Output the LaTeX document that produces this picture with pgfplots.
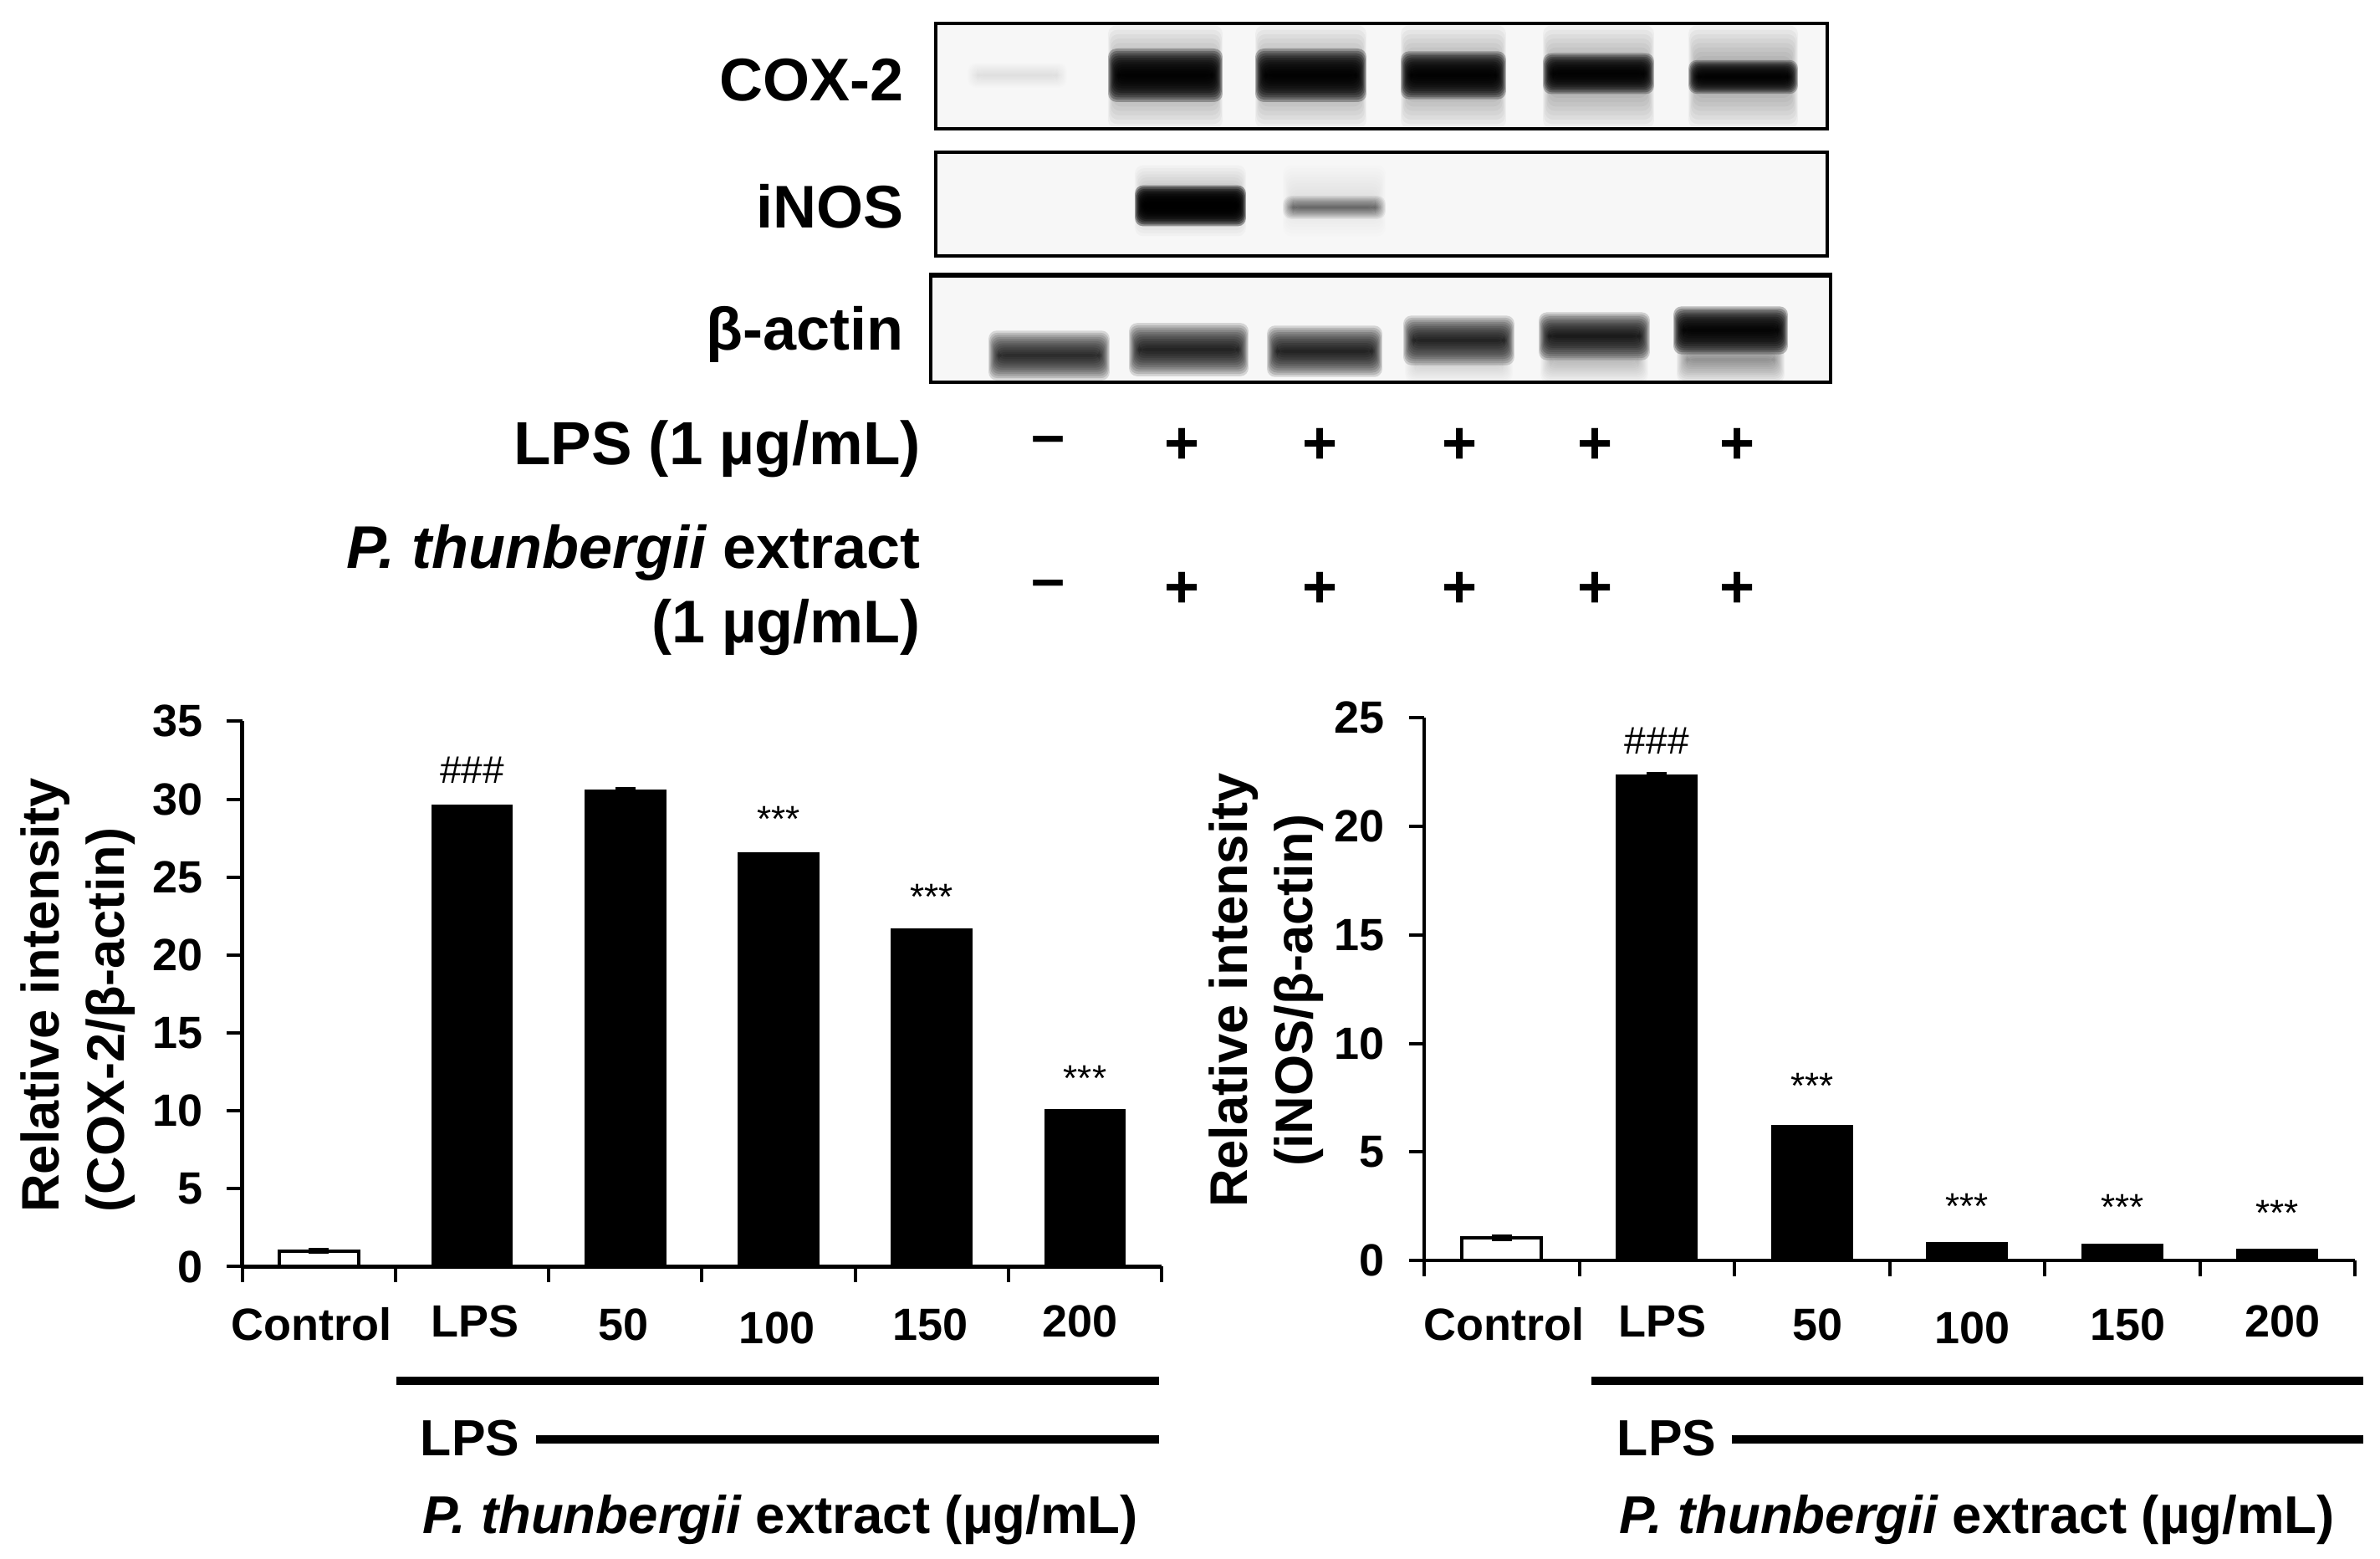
\documentclass[border=0pt]{standalone}
\usepackage{fontspec}
\setmainfont{Liberation Sans}
\usepackage{pgfplots}
\pgfplotsset{compat=1.18}
\newcommand\fs[1]{\fontsize{#1}{#1}\selectfont\bfseries}
\newcommand\band[5]{%
  \foreach \i in {1,...,12}{%
    \fill[black,opacity=#5,rounded corners=2.4pt]
      ({#1+\i*1.1},{#3-#4*(1.15-0.09*\i)}) rectangle ({#2-\i*1.1},{#3+#4*(1.15-0.09*\i)});
  }}
\newcommand\off[3]{\raisebox{#2}{\hspace*{#1}#3}}
\pgfplotsset{
  common/.style={
    scale only axis, clip=false,
    axis x line=bottom, axis y line=left,
    x axis line style={-}, y axis line style={-},
    axis line style={line width=1.1pt},
    tick align=outside, major tick length=4.6pt, tick style={line width=1.0pt,black},
    xmin=0,xmax=6,ymin=0,
    xtick={0,1,2,3,4,5,6}, x tick label as interval,
    tick label style={font=\fs{13.5}},
    /pgf/number format/assume math mode=true,
    y tick label style={xshift=-3.7pt},
    ybar, bar width=23.8pt, bar shift=0pt,
    error bars/error bar style={line width=0.9pt,black},
    error bars/error mark options={rotate=90,mark size=3pt,line width=0.9pt,black},
  },
  whitebar/.style={fill=white,draw=black,line width=1pt},
  blackbar/.style={fill=black,draw=black,line width=0.6pt},
}
\newcommand\hashmark[1]{\node[font=\fontsize{11.5}{11.5}\selectfont] at (#1) {\#\#\#};}
\newcommand\starmark[1]{\node[font=\fontsize{11}{11}\selectfont] at (#1) {***};}
\begin{document}
\begin{tikzpicture}
\path[use as bounding box] (0,0) rectangle (711.5pt,-465.75pt);
\begin{scope}[x=0.25pt,y=-0.25pt]
% blots
\fill[black!3] (1119,28) rectangle (2185,154);
\fill[black!3] (1119,182) rectangle (2185,306);
\fill[black!3] (1113,328) rectangle (2189,457);
% COX-2
\band{1156}{1277}{90}{14}{0.007}
\foreach \a/\b/\c/\h in {1324/1463/90/30,1500/1635/90/30,1674/1802/90/27,1844/1979/88/23,2018/2151/92/19}{
  \band{\a}{\b}{92}{58}{0.036}
  \band{\a}{\b}{\c}{\h}{0.26}
}
% iNOS
\band{1356}{1491}{240}{40}{0.025}
\band{1356}{1491}{246}{23}{0.36}
\band{1533}{1658}{240}{40}{0.008}
\band{1533}{1658}{248}{13}{0.06}
% actin
\foreach \a/\b/\c/\h/\o in {1181/1328/425/28/0.13,1349/1494/418/30/0.14,1514/1654/420/29/0.14,1677/1812/407/28/0.14,1839/1974/402/27/0.16,2000/2139/395/27/0.25}{
  \band{\a}{\b}{\c}{\h}{\o}
}
\band{2004}{2135}{430}{26}{0.04}
\band{1841}{1972}{432}{24}{0.018}
\band{1679}{1810}{436}{20}{0.012}
\draw[line width=0.9pt] (1119,28) rectangle (2185,154);
\draw[line width=1.1pt] (1119,182) rectangle (2185,306);
\draw[line width=1.1pt] (1113,328) rectangle (2189,457);
\draw[line width=1.6pt] (1113,329) -- (2189,329);
% blot labels
\node[anchor=east,font=\fs{18}] at (1095,96) {COX-2};
\node[anchor=east,font=\fs{18}] at (1095,247) {iNOS};
\node[anchor=east,font=\fs{18}] at (1095,400) {β-actin};
\node[anchor=east,font=\fs{18.2}] at (1115,537) {LPS (1 µg/mL)};
\node[anchor=east,font=\fs{18}] at (1115,661) {{\itshape P. thunbergii} extract};
\node[anchor=east,font=\fs{18}] at (1115,750) {(1 µg/mL)};
\foreach \x/\s in {1254/{\raisebox{-1pt}{--}},1414/+,1578/+,1745/+,1907/+,2077/+}{
  \node[font=\fs{18}] at (\x,533) {\s};
  \node[font=\fs{18}] at (\x,705) {\s};
}
% lines beneath the axes
\draw[line width=2.7pt] (474,1651) -- (1386,1651);
\draw[line width=2.7pt] (641,1721) -- (1386,1721);
\node[font=\fs{15.2}] at (562,1720) {LPS};
\node[anchor=east,font=\fs{15.9}] at (1375,1817) {{\itshape P. thunbergii} extract (µg/mL)};
\draw[line width=2.7pt] (1903,1651) -- (2826,1651);
\draw[line width=2.7pt] (2071,1721) -- (2826,1721);
\node[font=\fs{15.2}] at (1993,1720) {LPS};
\node[anchor=east,font=\fs{15.9}] at (2806,1817) {{\itshape P. thunbergii} extract (µg/mL)};
\end{scope}

\begin{axis}[common,
  at={(72.4pt,-378.6pt)},anchor=south west,
  width=274.9pt,height=163pt,ymax=35,ytick={0,5,...,35},
  xticklabels={\off{-4.6pt}{0pt}{Control},\off{1.8pt}{0.8pt}{LPS},\off{-1pt}{0pt}{50},\off{-1pt}{-1.2pt}{100},\off{-1pt}{0pt}{150},\off{-2.8pt}{0.8pt}{200}},
  x tick label style={anchor=base,yshift=-17.3pt},
  ylabel={Relative intensity\\(COX-2/β-actin)},
  every axis y label/.style={at={(axis description cs:-0.1785,0.498)},rotate=90,anchor=center,align=left,font=\fontsize{15.8}{19.5}\selectfont\bfseries},
]
\addplot[whitebar,error bars/.cd,y dir=both,y explicit] coordinates {(0.5,1.0) +- (0,0.1)};
\addplot[blackbar] coordinates {(1.5,29.6) (3.5,26.55) (4.5,21.65) (5.5,10.05)};
\addplot[blackbar,error bars/.cd,y dir=both,y explicit] coordinates {(2.5,30.55) +- (0,0.12)};
\hashmark{axis cs:1.5,31.85}
\starmark{axis cs:3.5,28.7}
\starmark{axis cs:4.5,23.75}
\starmark{axis cs:5.5,12.1}
\end{axis}

\begin{axis}[common,
  at={(425.75pt,-376.8pt)},anchor=south west,
  width=278.25pt,height=162.25pt,ymax=25,ytick={0,5,...,25},
  xticklabels={\off{1.2pt}{0pt}{Control},\off{3.2pt}{0.8pt}{LPS},\off{3.2pt}{0pt}{50},\off{3.2pt}{-1.2pt}{100},\off{3.2pt}{0pt}{150},\off{3.2pt}{0.8pt}{200}},
  x tick label style={anchor=base,yshift=-19.1pt},
  ylabel={Relative intensity\\(iNOS/β-actin)},
  every axis y label/.style={at={(axis description cs:-0.170,0.498)},rotate=90,anchor=center,align=center,font=\fontsize{15.8}{19.5}\selectfont\bfseries},
]
\addplot[whitebar,error bars/.cd,y dir=both,y explicit] coordinates {(0.5,1.05) +- (0,0.1)};
\addplot[blackbar,error bars/.cd,y dir=both,y explicit] coordinates {(1.5,22.35) +- (0,0.08)};
\addplot[blackbar] coordinates {(2.5,6.2) (3.5,0.82) (4.5,0.75) (5.5,0.49)};
\hashmark{axis cs:1.5,23.95}
\starmark{axis cs:2.5,8.05}
\starmark{axis cs:3.5,2.5}
\starmark{axis cs:4.5,2.45}
\starmark{axis cs:5.5,2.2}
\end{axis}
\end{tikzpicture}
\end{document}
